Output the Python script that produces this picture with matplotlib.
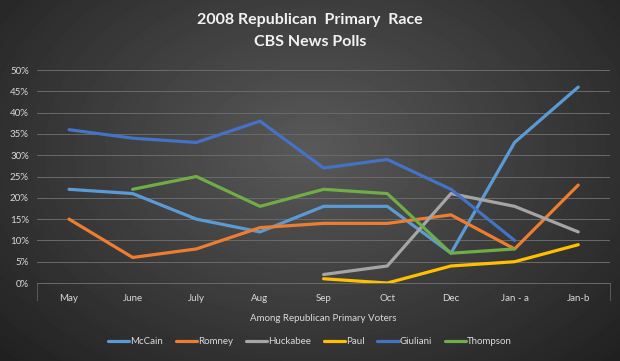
import numpy as np
import matplotlib
matplotlib.use("Agg")
import matplotlib.pyplot as plt
from matplotlib.lines import Line2D

categories = ["May", "June", "July", "Aug", "Sep", "Oct", "Dec", "Jan - a", "Jan-b"]
nan = np.nan
mccain = [22, 21, 15, 12, 18, 18, 7, 33, 46]
romney = [15, 6, 8, 13, 14, 14, 16, 8, 23]
huckabee = [nan, nan, nan, nan, 2, 4, 21, 18, 12]
paul = [nan, nan, nan, nan, 1, 0, 4, 5, 9]
giuliani = [36, 34, 33, 38, 27, 29, 22, 10, nan]
thompson = [nan, 22, 25, 18, 22, 21, 7, 8, nan]
series_names = ["McCain", "Romney", "Huckabee", "Paul", "Giuliani", "Thompson"]
series_values = [mccain, romney, huckabee, paul, giuliani, thompson]
colors = ["#5B9BD5", "#ED7D31", "#A5A5A5", "#FFC000", "#4472C4", "#70AD47"]
yticks = [0, 5, 10, 15, 20, 25, 30, 35, 40, 45, 50]

plt.rcParams['font.family'] = ['Lato', 'DejaVu Sans']

fig = plt.figure(figsize=(6.2, 3.61), dpi=100)

# radial gradient background
bg = fig.add_axes([0, 0, 1, 1], zorder=-10)
yy, xx = np.mgrid[0:361, 0:620]
cx, cy = 310, 150
r = np.sqrt(((xx - cx) / 420.0) ** 2 + ((yy - cy) / 300.0) ** 2)
val = np.clip(0.35 - 0.22 * r, 0.12, 0.4)
bg.imshow(val, cmap="gray", vmin=0, vmax=1, aspect="auto", extent=[0, 1, 0, 1])
bg.axis("off")

ax = fig.add_axes([0.06, 0.216, 0.924, 0.59])
ax.set_facecolor("none")
x = np.arange(len(categories))
for name, vals, c in zip(series_names, series_values, colors):
    ax.plot(x, np.array(vals, dtype=float) / 100.0, color=c, lw=2.3,
            solid_capstyle="round", solid_joinstyle="round", label=name)

ax.set_xlim(-0.5, len(categories) - 0.5)
ax.set_ylim(0, 0.5)
ax.set_yticks([v / 100 for v in yticks])
ax.set_yticklabels([f"{v}%" for v in yticks])
ax.set_xticks(x)
ax.set_xticklabels(categories)
ax.yaxis.grid(True, color="#6a6a6a", lw=0.7)
ax.set_axisbelow(True)
for s in ["top", "right", "left"]:
    ax.spines[s].set_visible(False)
ax.spines["bottom"].set_color("#6a6a6a")
ax.spines["bottom"].set_linewidth(0.7)
ax.tick_params(axis="both", length=0, colors="#D9D9D9", labelsize=7)
ax.tick_params(axis="x", pad=8)
ax.tick_params(axis="y", pad=6)

for xa in (0, 1):
    ax.add_line(Line2D([xa, xa], [0, -0.08], transform=ax.transAxes,
                       color="#5a5a5a", lw=0.7, clip_on=False))

ax.set_xlabel("Among Republican Primary Voters", color="#D9D9D9", fontsize=7, labelpad=8)

fig.text(0.5, 0.945, "2008 Republican  Primary  Race", ha="center", va="center",
         color="#F2F2F2", fontsize=11.5, fontweight="bold")
fig.text(0.5, 0.885, "CBS News Polls", ha="center", va="center",
         color="#F2F2F2", fontsize=11.5, fontweight="bold")

leg = fig.legend(loc="center", bbox_to_anchor=(0.5, 0.053), ncol=6, frameon=False,
                 fontsize=7, handlelength=2.2, handletextpad=0.1, columnspacing=1.3)
for t in leg.get_texts():
    t.set_color("#D9D9D9")

fig.savefig("out.png", dpi=100)
